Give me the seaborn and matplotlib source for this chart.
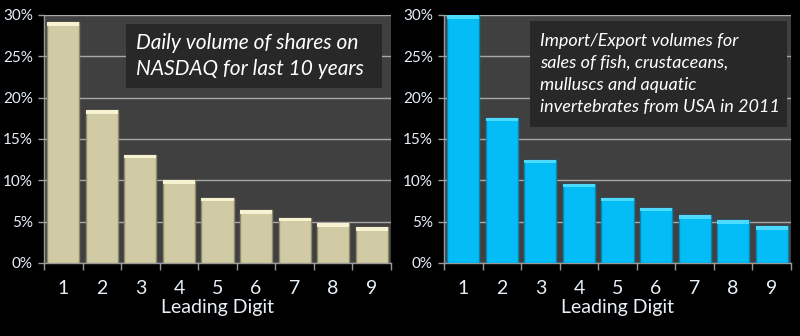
import matplotlib
matplotlib.use("Agg")
import matplotlib.pyplot as plt
import matplotlib.patches as mpatches
from matplotlib.ticker import FuncFormatter
import seaborn as sns
import pandas as pd

digits = ["1", "2", "3", "4", "5", "6", "7", "8", "9"]
nasdaq_share = [29.1, 18.5, 13.1, 10.0, 7.9, 6.4, 5.5, 4.8, 4.3]
seafood_share = [30.1, 17.6, 12.5, 9.6, 7.9, 6.7, 5.8, 5.2, 4.5]
y_ticks = [0, 5, 10, 15, 20, 25, 30]

nasdaq_note = "Daily volume of shares on\nNASDAQ for last 10 years"
seafood_note = ("Import/Export volumes for\nsales of fish, crustaceans,\n"
                "mulluscs and aquatic\ninvertebrates from USA in 2011")

sns.set_theme(style="dark")
plt.rcParams["font.family"] = ["Lato", "DejaVu Sans"]

fig = plt.figure(figsize=(8.0, 3.36), dpi=100, facecolor="black")
ax_left = fig.add_axes([44 / 800, 1 - 263 / 336, 347 / 800, 248 / 336])
ax_right = fig.add_axes([444 / 800, 1 - 263 / 336, 347 / 800, 248 / 336])

tick_color = "#E6F0FA"


def draw_panel(ax, values, face, edge, light, note, box, note_size, spacing):
    df = pd.DataFrame({"digit": digits, "share": values})
    sns.barplot(data=df, x="digit", y="share", ax=ax, color=face,
                saturation=1, width=0.83, edgecolor=edge, linewidth=1.0,
                zorder=3)
    ax.set_facecolor("#404040")
    ax.set_ylim(0, 30)
    ax.set_xlim(-0.5, len(digits) - 0.5)
    ax.set_yticks(y_ticks)
    ax.yaxis.set_major_formatter(FuncFormatter(lambda v, p: f"{v:.0f}%"))
    ax.grid(axis="y", color="#A8A8A8", linewidth=1.0, zorder=0)
    ax.grid(axis="x", visible=False)

    # bevelled top on each bar
    for bar in ax.patches:
        x0, w = bar.get_x(), bar.get_width()
        top = min(bar.get_height(), 30)
        ax.add_patch(mpatches.Rectangle((x0, top - 0.45), w, 0.45,
                                        facecolor=light, edgecolor="none",
                                        zorder=4, clip_on=True))

    for side in ("top", "right"):
        ax.spines[side].set_visible(False)
    for side in ("left", "bottom"):
        ax.spines[side].set_visible(True)
        ax.spines[side].set_color("#9A9A9A")
        ax.spines[side].set_linewidth(1.0)

    # category ticks sit between digits on the x axis
    ax.set_xticks(range(len(digits)))
    ax.set_xticklabels(digits)
    ax.set_xticks([i - 0.5 for i in range(len(digits) + 1)], minor=True)
    ax.tick_params(axis="x", which="major", length=0, pad=12,
                   labelsize=14, colors=tick_color)
    ax.tick_params(axis="x", which="minor", length=5, width=1.0,
                   color="#9A9A9A", bottom=True)
    ax.tick_params(axis="y", length=4, width=1.0, color="#9A9A9A",
                   labelsize=11, colors=tick_color, pad=4, left=True)
    ax.set_xlabel("Leading Digit", color=tick_color, fontsize=14, labelpad=2)
    ax.set_ylabel("")

    bx, by, bw, bh = box
    ax.add_patch(mpatches.Rectangle((bx, by), bw, bh,
                                    transform=ax.transAxes,
                                    facecolor="#282828", edgecolor="none",
                                    zorder=5))
    ax.text(bx + 0.03, by + bh / 2, note, transform=ax.transAxes,
            ha="left", va="center", color="white", fontsize=note_size,
            fontstyle="italic", linespacing=spacing, zorder=6)


draw_panel(ax_left, nasdaq_share, "#D1CBA5", "#8F8A6C", "#F6F2D2", nasdaq_note,
           ((126 - 44) / 347, (263 - 88) / 248, 256 / 347, 64 / 248), 15, 1.32)
draw_panel(ax_right, seafood_share, "#05BDF6", "#0A86B4", "#4CDAFF", seafood_note,
           ((530 - 444) / 347, (263 - 127) / 248, 257 / 347, 106 / 248), 13, 1.45)

fig.savefig("out.png", dpi=100, facecolor="black")
